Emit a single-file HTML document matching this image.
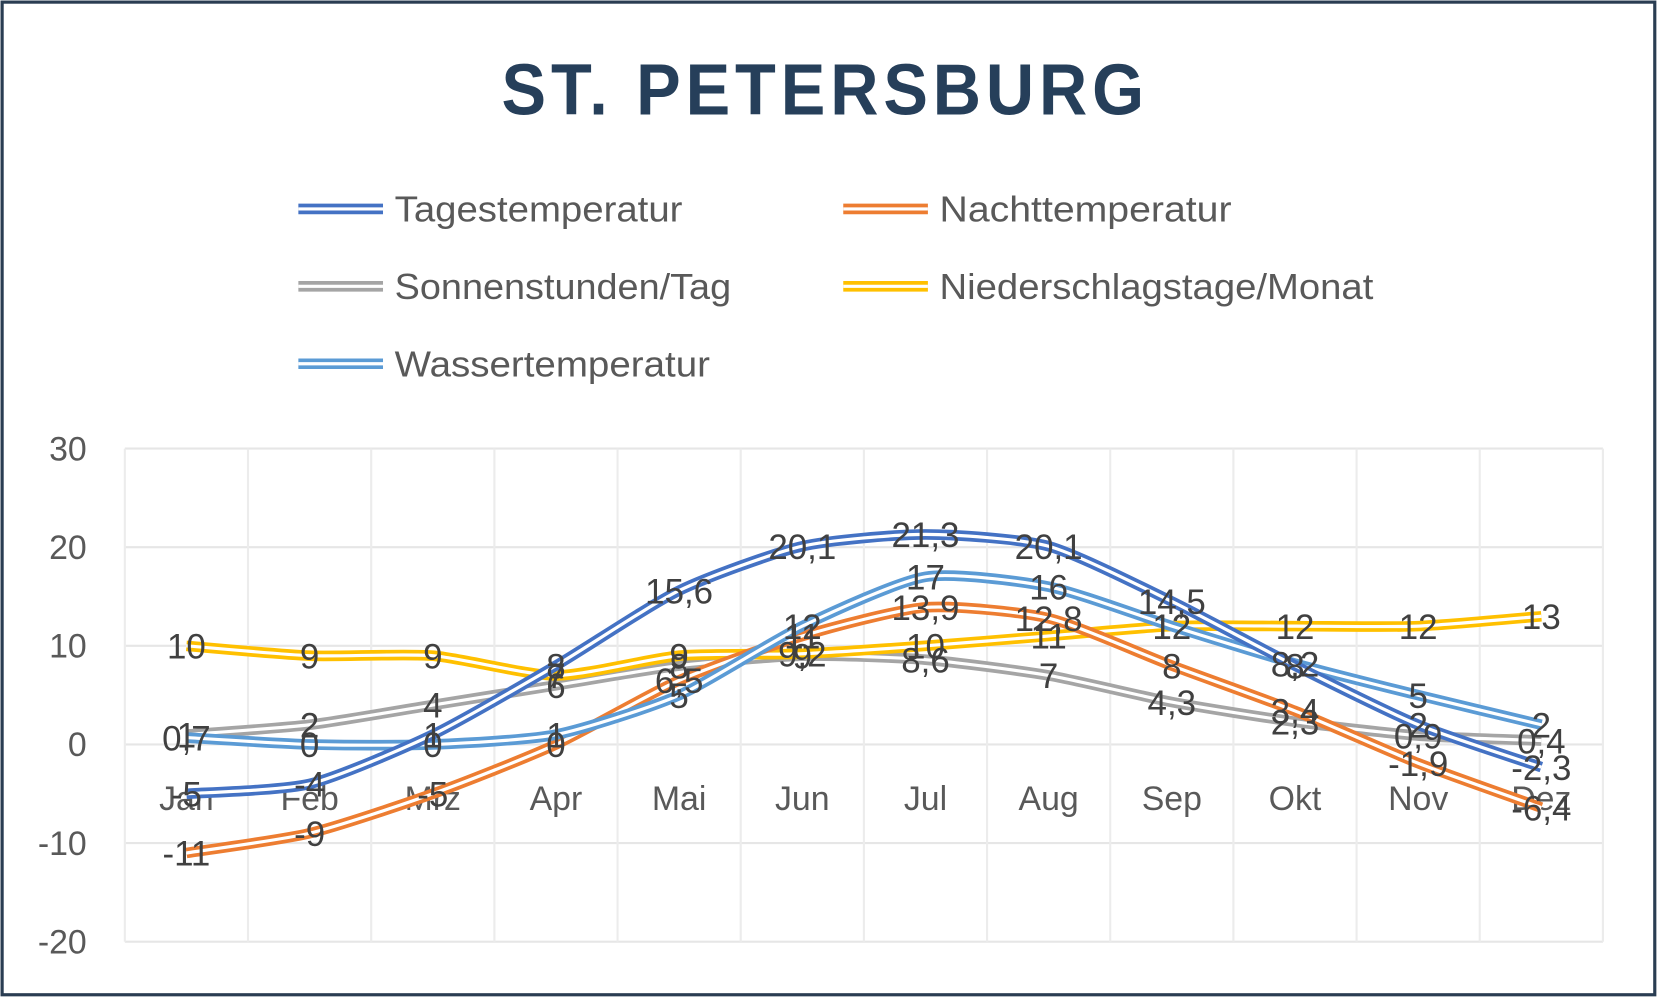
<!DOCTYPE html>
<html><head><meta charset="utf-8">
<style>
html,body{margin:0;padding:0;background:#fff;}
body{width:1659px;height:999px;overflow:hidden;position:relative;}
#w{position:absolute;left:0;top:0;width:1568px;height:942px;transform-origin:0 0;transform:scale(1.05804,1.06051);}
svg text{font-family:"Liberation Sans",sans-serif;}
</style></head><body>
<div id="w">
<svg id="s" width="1568" height="942" xmlns="http://www.w3.org/2000/svg">
<rect x="2" y="2" width="1562" height="936" fill="#fff" stroke="#2a3d52" stroke-width="3"/>
<text x="780" y="108" text-anchor="middle" font-size="68" font-weight="bold" fill="#263f5a" letter-spacing="5" textLength="612" lengthAdjust="spacingAndGlyphs">ST. PETERSBURG</text>
<g id="g"></g>
</svg>
</div>
<script>
var g=document.getElementById('g'),NS='http://www.w3.org/2000/svg';
function el(n,a,t){var e=document.createElementNS(NS,n);for(var k in a)e.setAttribute(k,a[k]);if(t!=null)e.textContent=t;g.appendChild(e);return e;}
var x0=118,x1=1515,yT=423,yB=888;
function Y(v){return 702-v*9.3;}
var cw=(x1-x0)/12;function X(i){return x0+cw*(i+0.5);}
for(var v=-20;v<=30;v+=10){el('line',{x1:x0,x2:x1,y1:Y(v),y2:Y(v),stroke:'#e6e6e6','stroke-width':2});
el('text',{x:82,y:Y(v)+11,'text-anchor':'end','font-size':32,fill:'#595959'},String(v));}
for(var i=0;i<=12;i++)el('line',{x1:x0+cw*i,x2:x0+cw*i,y1:yT,y2:yB,stroke:'#ececec','stroke-width':2});
var m=['Jan','Feb','Mrz','Apr','Mai','Jun','Jul','Aug','Sep','Okt','Nov','Dez'];
m.forEach(function(t,i){el('text',{x:X(i),y:764,'text-anchor':'middle','font-size':32,fill:'#595959'},t);});
var S=[
['Sonnenstunden/Tag','#a5a5a5',[1,2,4,6,8,9,8.6,7,4.3,2.3,0.9,0.4]],
['Niederschlagstage/Monat','#ffc000',[10,9,9,7,9,9.2,10,11,12,12,12,13]],
['Nachttemperatur','#ed7d31',[-11,-9,-5,0,6.5,11,13.9,12.8,8,3.4,-1.9,-6.4]],
['Wassertemperatur','#5b9bd5',[0.7,0,0,1,5,12,17,16,12,8.2,5,2]],
['Tagestemperatur','#4472c4',[-5,-4,1,8,15.6,20.1,21.3,20.1,14.5,8,2,-2.3]]
];
function path(d){var p=d.map(function(v,i){return [X(i),Y(v)];});var s='M'+p[0][0]+','+p[0][1];
for(var i=0;i<p.length-1;i++){var a=p[i-1]||p[i],b=p[i],c=p[i+1],e=p[i+2]||c;
s+=' C'+(b[0]+(c[0]-a[0])/9)+','+(b[1]+(c[1]-a[1])/9)+' '+(c[0]-(e[0]-b[0])/9)+','+(c[1]-(e[1]-b[1])/9)+' '+c[0]+','+c[1];}return s;}
S.forEach(function(s){var d=path(s[2]);
el('path',{d:d,fill:'none',stroke:s[1],'stroke-width':10,'stroke-linejoin':'round'});
el('path',{d:d,fill:'none',stroke:'#fff','stroke-width':3});});
S.forEach(function(s){s[2].forEach(function(v,i){var t=String(v).replace('.',',');el('text',{x:X(i),y:Y(v)+12,'text-anchor':'middle','font-size':33,fill:'#404040'},t);});});
var L=[['Tagestemperatur','#4472c4',282,197,272],['Nachttemperatur','#ed7d31',797,197,276],['Sonnenstunden/Tag','#a5a5a5',282,270,318],['Niederschlagstage/Monat','#ffc000',797,270,410],['Wassertemperatur','#5b9bd5',282,343,298]];
L.forEach(function(l){el('line',{x1:l[2],x2:l[2]+80,y1:l[3],y2:l[3],stroke:l[1],'stroke-width':10});
el('line',{x1:l[2],x2:l[2]+80,y1:l[3],y2:l[3],stroke:'#fff','stroke-width':3});
el('text',{x:l[2]+91,y:l[3]+12,'font-size':34,fill:'#595959',textLength:l[4],lengthAdjust:'spacingAndGlyphs'},l[0]);});
</script>
</body></html>
